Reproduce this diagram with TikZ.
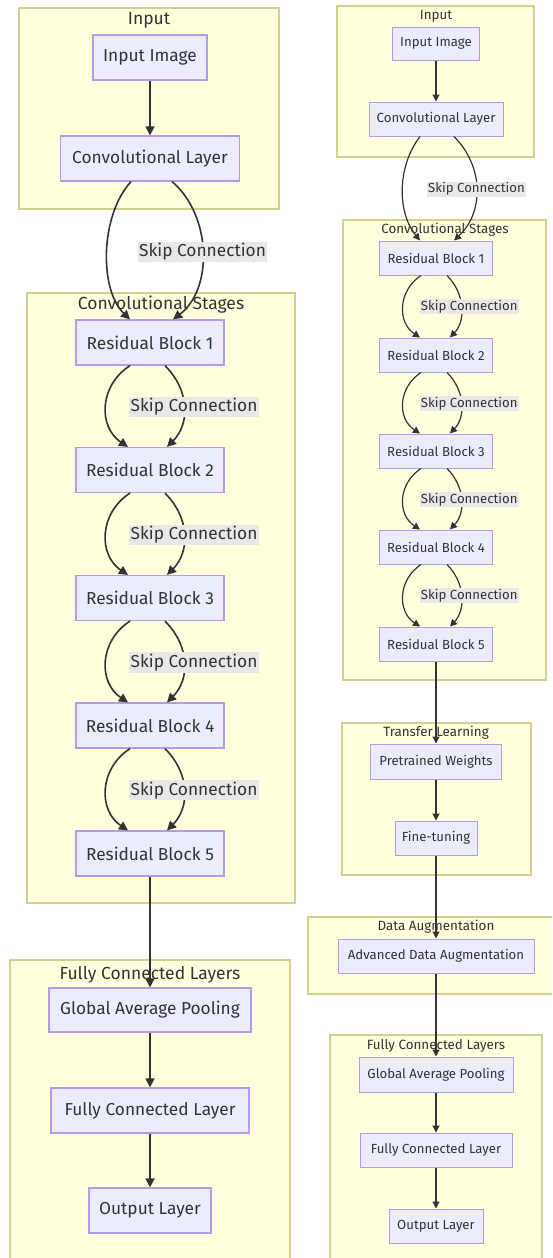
\documentclass[tikz,border=0pt]{standalone}
\usepackage{fontspec}
\setmainfont{Fira Sans}
\usetikzlibrary{arrows.meta,calc}
\definecolor{clfill}{HTML}{FFFFDE}
\definecolor{clbase}{HTML}{AAAA33}
\colorlet{clline}{clbase!55!white}
\definecolor{ndfill}{HTML}{ECECFF}
\definecolor{ndbase}{HTML}{9370DB}
\colorlet{ndline}{ndbase!70!white}
\definecolor{edge}{HTML}{333333}
\definecolor{txt}{HTML}{333333}
\definecolor{lblbg}{HTML}{E8E8E8}
\tikzset{
  cluster/.style={draw=clline, fill=clfill, line width=1.5pt},
  ctitleL/.style={text=txt, font=\fontsize{17.5}{20}\selectfont, inner sep=0pt},
  ctitleR/.style={text=txt, font=\fontsize{13.4}{15}\selectfont, inner sep=0pt},
  boxL/.style={draw=ndline, fill=ndfill, line width=1.2pt, text=txt, inner sep=0pt,
    font=\fontsize{17.3}{20}\selectfont, minimum height=45pt},
  boxR/.style={draw=ndline, fill=ndfill, line width=1pt, text=txt, inner sep=0pt,
    font=\fontsize{13.2}{15}\selectfont, minimum height=34pt},
  arrL/.style={draw=edge, line width=1.6pt, -{Triangle[length=9pt,width=9pt]}},
  arrR/.style={draw=edge, line width=1.2pt, -{Triangle[length=7pt,width=7pt]}},
  lblL/.style={fill=lblbg, text=txt, inner sep=1.5pt, font=\fontsize{17.3}{20}\selectfont},
  lblR/.style={fill=lblbg, text=txt, inner sep=1pt, font=\fontsize{13.2}{15}\selectfont},
}
\begin{document}
\begin{tikzpicture}[x=1pt,y=-1pt]
\useasboundingbox (0,0) rectangle (552,1258);
\fill[white] (0,0) rectangle (552,1258);
\clip (0,0) rectangle (552,1258);

% ---------------- left diagram ----------------
\draw[cluster] (19,8) rectangle (279,209);
\node[ctitleL] (tInL) at (149,20) {Input};
\draw[cluster] (27,293) rectangle (295,903);
\node[ctitleL] (tCsL) at (161,305) {Convolutional Stages};
\draw[cluster] (10,960) rectangle (290,1270);
\node[ctitleL] (tFcL) at (150,975) {Fully Connected Layers};

\node[boxL, minimum width=114pt] (inL) at (150,57.5) {Input Image};
\node[boxL, minimum width=179pt] (convL) at (150,158.5) {Convolutional Layer};
\node[boxL, minimum width=148pt] (rb1L) at (150,342.5) {Residual Block 1};
\node[boxL, minimum width=148pt] (rb2L) at (150,470) {Residual Block 2};
\node[boxL, minimum width=148pt] (rb3L) at (150,598) {Residual Block 3};
\node[boxL, minimum width=148pt] (rb4L) at (150,725.5) {Residual Block 4};
\node[boxL, minimum width=148pt] (rb5L) at (150,853.5) {Residual Block 5};
\node[boxL, minimum width=202pt, minimum height=44pt] (gapL) at (150,1010) {Global Average Pooling};
\node[boxL, minimum width=198pt] (fcL) at (150,1110.5) {Fully Connected Layer};
\node[boxL, minimum width=122pt] (outL) at (150,1210.5) {Output Layer};

\draw[arrL] (inL.south) -- (convL.north);
\draw[arrL] ([xshift=-19pt]convL.south) .. controls +(-31,34) and +(-31,-30) .. ([xshift=-20pt]rb1L.north);
\draw[arrL] ([xshift=22pt]convL.south) .. controls +(40,34) and +(40,-30) .. ([xshift=23pt]rb1L.north)
  node[lblL, pos=0.5] (sk0L) {Skip Connection};
\foreach \a/\b/\n in {rb1L/rb2L/1, rb2L/rb3L/2, rb3L/rb4L/3, rb4L/rb5L/4}{
  \draw[arrL] ([xshift=-20pt]\a.south) .. controls +(-31,20) and +(-30,-20) .. ([xshift=-22pt]\b.north);
  \draw[arrL] ([xshift=15pt]\a.south) .. controls +(25,25) and +(23,-23) .. ([xshift=17pt]\b.north)
    node[lblL, pos=0.5, xshift=10pt] (sk\n L) {Skip Connection};
}
\draw[arrL] (rb5L.south) -- (gapL.north);
\draw[arrL] (gapL.south) -- (fcL.north);
\draw[arrL] (fcL.south) -- (outL.north);

% ---------------- right diagram ----------------
\draw[cluster] (337,6) rectangle (534,157);
\node[ctitleR] (tInR) at (436,16) {Input};
\draw[cluster] (343,220) rectangle (546,680);
\node[ctitleR] (tCsR) at (445,230) {Convolutional Stages};
\draw[cluster] (342,723) rectangle (531,875);
\node[ctitleR] (tTlR) at (436,733) {Transfer Learning};
\draw[cluster] (308,917) rectangle (565,994);
\node[ctitleR] (tDaR) at (436,927) {Data Augmentation};
\draw[cluster] (330,1035) rectangle (542,1270);
\node[ctitleR] (tFcR) at (436,1046) {Fully Connected Layers};

\node[boxR, minimum width=87pt, minimum height=33pt] (inR) at (436,43.5) {Input Image};
\node[boxR, minimum width=134pt] (convR) at (436,119) {Convolutional Layer};
\node[boxR, minimum width=113pt] (rb1R) at (436,258) {Residual Block 1};
\node[boxR, minimum width=113pt] (rb2R) at (436,355) {Residual Block 2};
\node[boxR, minimum width=113pt] (rb3R) at (436,451) {Residual Block 3};
\node[boxR, minimum width=113pt] (rb4R) at (436,547) {Residual Block 4};
\node[boxR, minimum width=113pt] (rb5R) at (436,644) {Residual Block 5};
\node[boxR, minimum width=131pt, minimum height=35pt] (ptR) at (436,761.5) {Pretrained Weights};
\node[boxR, minimum width=82pt] (ftR) at (436,838) {Fine-tuning};
\node[boxR, minimum width=196pt] (adaR) at (436,956) {Advanced Data Augmentation};
\node[boxR, minimum width=154pt, minimum height=35pt] (gapR) at (436,1074.5) {Global Average Pooling};
\node[boxR, minimum width=152pt] (fcR) at (436,1150) {Fully Connected Layer};
\node[boxR, minimum width=94pt] (outR) at (436,1226) {Output Layer};

\draw[arrR] (inR.south) -- (convR.north);
\draw[arrR] ([xshift=-16pt]convR.south) .. controls +(-23,30) and +(-23,-28) .. ([xshift=-16pt]rb1R.north);
\draw[arrR] ([xshift=18pt]convR.south) .. controls +(30,30) and +(30,-28) .. ([xshift=18pt]rb1R.north)
  node[lblR, pos=0.5] (sk0R) {Skip Connection};
\foreach \a/\b/\n in {rb1R/rb2R/1, rb2R/rb3R/2, rb3R/rb4R/3, rb4R/rb5R/4}{
  \draw[arrR] ([xshift=-15pt]\a.south) .. controls +(-23,15) and +(-23,-15) .. ([xshift=-16pt]\b.north);
  \draw[arrR] ([xshift=11pt]\a.south) .. controls +(18,18) and +(16,-17) .. ([xshift=14pt]\b.north)
    node[lblR, pos=0.5, xshift=8pt] (sk\n R) {Skip Connection};
}
\draw[arrR] (rb5R.south) -- (ptR.north);
\draw[arrR] (ptR.south) -- (ftR.north);
\draw[arrR] (ftR.south) -- (adaR.north);
\draw[arrR] (adaR.south) -- (gapR.north);
\draw[arrR] (gapR.south) -- (fcR.north);
\draw[arrR] (fcR.south) -- (outR.north);
\end{tikzpicture}
\end{document}
